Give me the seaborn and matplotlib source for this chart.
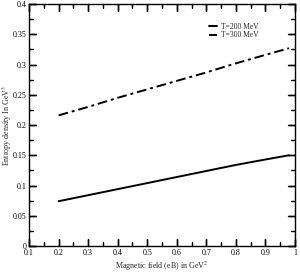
import seaborn as sns
import pandas as pd
import matplotlib.pyplot as plt
import matplotlib.transforms as mtransforms
from matplotlib.ticker import MultipleLocator

# values
eB = [0.2, 0.3, 0.4, 0.5, 0.6, 0.7, 0.8, 0.9, 0.98]
s_200 = [0.074, 0.084, 0.094, 0.104, 0.114, 0.124, 0.134, 0.143, 0.150]
s_300 = [0.216, 0.230, 0.245, 0.259, 0.273, 0.287, 0.302, 0.316, 0.327]

xticks = [0.1, 0.2, 0.3, 0.4, 0.5, 0.6, 0.7, 0.8, 0.9, 1.0]
xlabels = ['0.1', '0.2', '0.3', '0.4', '0.5', '0.6', '0.7', '0.8', '0.9', '1']
yticks = [0, 0.05, 0.1, 0.15, 0.2, 0.25, 0.3, 0.35, 0.4]
ylabels = ['0', '0.05', '0.1', '0.15', '0.2', '0.25', '0.3', '0.35', '0.4']

df = pd.DataFrame({"eB": eB * 2,
                   "s": s_200 + s_300,
                   "T": ["T=200 MeV"] * len(eB) + ["T=300 MeV"] * len(eB)})

sns.set_style("white")
plt.rcParams['font.family'] = ['Liberation Serif', 'DejaVu Serif']
plt.rcParams['mathtext.fontset'] = 'stix'

fig, ax = plt.subplots(figsize=(3.0, 2.73), dpi=100)
sns.lineplot(data=df, x="eB", y="s", style="T", color="black", linewidth=1.4,
             dashes={"T=200 MeV": "", "T=300 MeV": (5, 2, 1.5, 2)}, ax=ax)

ax.set_xlim(0.1, 1.0)
ax.set_ylim(0, 0.4)
ax.set_xticks(xticks)
ax.set_xticklabels(xlabels)
ax.set_yticks(yticks)
ax.set_yticklabels(ylabels)
ax.xaxis.set_minor_locator(MultipleLocator(0.05))
ax.yaxis.set_minor_locator(MultipleLocator(0.025))
ax.tick_params(which='both', direction='in', top=True, right=True, bottom=True, left=True,
               colors='black', labelsize=5.8, pad=2)
ax.tick_params(which='major', length=5, width=1.0)
ax.tick_params(which='minor', length=2.5, width=0.9)
for sp in ax.spines.values():
    sp.set_linewidth(1.0)
    sp.set_color('black')

# inward tick marks on all four sides, drawn as plain lines too
tx = mtransforms.blended_transform_factory(ax.transData, ax.transAxes)
ty = mtransforms.blended_transform_factory(ax.transAxes, ax.transData)
xminor = [x for x in ax.xaxis.get_minorticklocs() if 0.1 <= x <= 1.0]
yminor = [y for y in ax.yaxis.get_minorticklocs() if 0 <= y <= 0.4]
for locs, ln, lw in ((xticks, 0.029, 1.0), (xminor, 0.015, 0.9)):
    for x in locs:
        ax.plot([x, x], [0, ln], color='black', lw=lw, transform=tx, clip_on=False)
        ax.plot([x, x], [1, 1 - ln], color='black', lw=lw, transform=tx, clip_on=False)
for locs, ln, lw in ((yticks, 0.026, 1.0), (yminor, 0.013, 0.9)):
    for y in locs:
        ax.plot([0, ln], [y, y], color='black', lw=lw, transform=ty, clip_on=False)
        ax.plot([1, 1 - ln], [y, y], color='black', lw=lw, transform=ty, clip_on=False)

ax.set_xlabel('Magnetic field (eB) in GeV$^2$', fontsize=5.8, labelpad=2)
ax.set_ylabel('Entropy density In GeV$^3$', fontsize=5.8)
ax.yaxis.set_label_coords(-0.058, 0.5)
leg = ax.legend(loc='upper right', bbox_to_anchor=(0.89, 0.95), frameon=False, fontsize=5.5,
                handlelength=1.1, handletextpad=0.5, labelspacing=0.05, title=None)

plt.subplots_adjust(left=0.097, right=0.983, top=0.985, bottom=0.099)
plt.savefig('out.png', dpi=100)
